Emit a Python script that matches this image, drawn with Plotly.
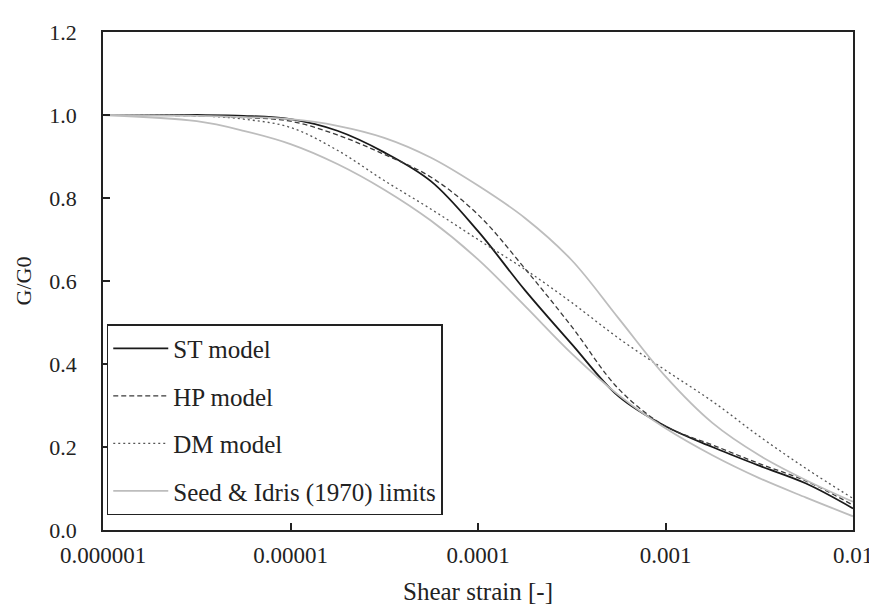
import plotly.graph_objects as go

# ==============================
# DATA
# ==============================

strain = [1e-6, 10**-5.5, 10**-5.25, 1e-5, 10**-4.75, 10**-4.5, 10**-4.25, 1e-4,
          10**-3.75, 10**-3.5, 10**-3.25, 1e-3, 10**-2.75, 10**-2.5, 10**-2.25, 1e-2]

st_model = [1.0, 1.0, 0.998, 0.99, 0.962, 0.91, 0.84, 0.72,
            0.578, 0.448, 0.322, 0.25, 0.20, 0.155, 0.112, 0.052]
hp_model = [1.0, 0.998, 0.994, 0.985, 0.952, 0.905, 0.85, 0.76,
            0.63, 0.49, 0.34, 0.25, 0.205, 0.16, 0.118, 0.06]
dm_model = [1.0, 0.998, 0.99, 0.97, 0.915, 0.842, 0.773, 0.70,
            0.628, 0.548, 0.462, 0.385, 0.31, 0.226, 0.148, 0.076]
seed_upper = [1.0, 0.998, 0.995, 0.99, 0.974, 0.945, 0.897, 0.83,
              0.752, 0.65, 0.51, 0.37, 0.258, 0.18, 0.12, 0.068]
seed_lower = [1.0, 0.985, 0.962, 0.93, 0.882, 0.82, 0.745, 0.652,
              0.54, 0.425, 0.325, 0.245, 0.18, 0.125, 0.078, 0.033]

x_tick_vals = [1e-6, 1e-5, 1e-4, 1e-3, 1e-2]
x_tick_text = ["0.000001", "0.00001", "0.0001", "0.001", "0.01"]

FONT = "Times New Roman, Liberation Serif, DejaVu Serif, serif"

# ==============================
# BUILD GRAPH
# ==============================

fig = go.Figure()

fig.add_trace(go.Scatter(
    x=strain, y=st_model, mode="lines", name="ST model",
    legendgroup="st",
    line=dict(color="#1a1a1a", width=1.8, shape="spline", smoothing=1.0)
))
fig.add_trace(go.Scatter(
    x=strain, y=hp_model, mode="lines", name="HP model",
    legendgroup="hp",
    line=dict(color="#3a3a3a", width=1.3, dash="5px,3px", shape="spline", smoothing=1.0)
))
fig.add_trace(go.Scatter(
    x=strain, y=dm_model, mode="lines", name="DM model",
    legendgroup="dm",
    line=dict(color="#555555", width=1.3, dash="2px,3px", shape="spline", smoothing=1.0)
))
fig.add_trace(go.Scatter(
    x=strain, y=seed_upper, mode="lines", name="Seed & Idris (1970) limits",
    legendgroup="seed",
    line=dict(color="#bdbdbd", width=1.8, shape="spline", smoothing=1.0)
))
fig.add_trace(go.Scatter(
    x=strain, y=seed_lower, mode="lines", name="Seed & Idris lower",
    legendgroup="seed", showlegend=False,
    line=dict(color="#bdbdbd", width=1.8, shape="spline", smoothing=1.0)
))

# ==============================
# STYLE
# ==============================

fig.update_layout(
    width=877,
    height=606,
    paper_bgcolor="white",
    plot_bgcolor="white",
    font=dict(family=FONT, size=23, color="#222222"),
    margin=dict(l=95, r=25, t=19, b=84),
    showlegend=True,
    legend=dict(
        x=0.005, y=0.03, xanchor="left", yanchor="bottom",
        bgcolor="white", bordercolor="#222222", borderwidth=1.5,
        font=dict(family=FONT, size=25, color="#222222"),
        tracegroupgap=12, itemwidth=55,
    ),
    xaxis=dict(
        type="log", range=[-6, -2],
        tickvals=x_tick_vals, ticktext=x_tick_text,
        ticks="inside", ticklen=7, tickwidth=1.5, tickcolor="#222222",
        showline=True, linecolor="#222222", linewidth=1.8, mirror=True,
        showgrid=False, zeroline=False, ticklabelstandoff=3,
        title=dict(text="Shear strain [-]", standoff=16,
                   font=dict(family=FONT, size=25)),
    ),
    yaxis=dict(
        range=[0, 1.2], dtick=0.2, tickformat=".1f",
        tickfont=dict(size=22),
        ticks="inside", ticklen=7, tickwidth=1.5, tickcolor="#222222",
        showline=True, linecolor="#222222", linewidth=1.8, mirror=True,
        showgrid=False, zeroline=False, ticklabelstandoff=20,
        title=dict(text="G/G0", standoff=12,
                   font=dict(family=FONT, size=22)),
    ),
)

fig.write_html("out.html")
